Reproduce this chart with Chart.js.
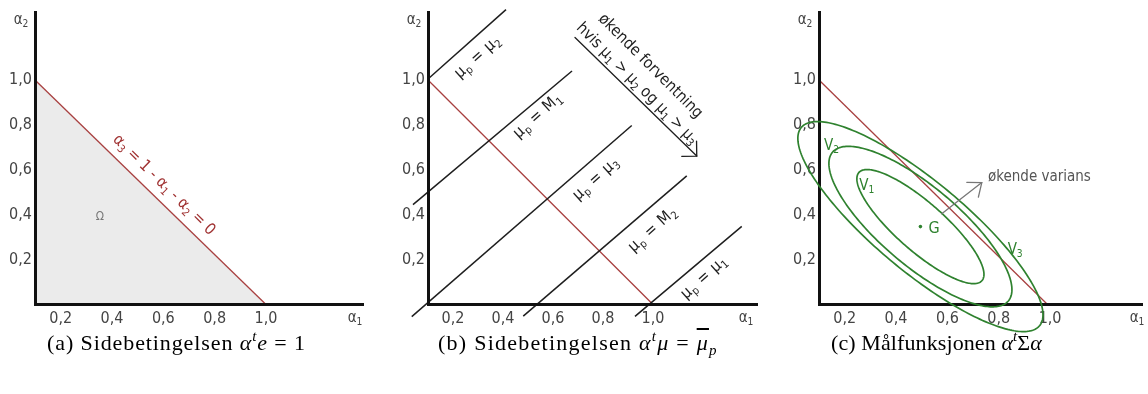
<!DOCTYPE html>
<html><head><meta charset="utf-8">
<script src="https://cdn.jsdelivr.net/npm/chart.js@4.4.0/dist/chart.umd.min.js"></script>
<style>
html,body{margin:0;padding:0;background:#fff;}
#wrap{position:relative;width:1148px;height:394px;overflow:hidden;background:#fff;}
.panel{position:absolute;top:0;height:394px;}
canvas{display:block;}
.cap{position:absolute;top:330px;font-family:'Liberation Serif','DejaVu Serif',serif;font-size:22px;letter-spacing:0.9px;line-height:26px;color:#000;white-space:nowrap;}
.cap i{font-style:italic;}
.cap sup{font-size:15px;vertical-align:9px;line-height:0;}
.cap sub{font-size:15px;vertical-align:-5px;line-height:0;}
.ov{text-decoration:overline;}
</style></head><body>
<div id="wrap">
  <div class="panel" style="left:0;width:383px"><canvas id="ca" width="383" height="394"></canvas></div>
  <div class="panel" style="left:383px;width:387px"><canvas id="cb" width="387" height="394"></canvas></div>
  <div class="panel" style="left:770px;width:378px"><canvas id="cc" width="378" height="394"></canvas></div>
  <div class="cap" style="left:47px">(a) Sidebetingelsen <i>α</i><sup><i>t</i></sup><i>e</i> = 1</div>
  <div class="cap" style="left:438px;letter-spacing:1.25px">(b) Sidebetingelsen <i>α</i><sup><i>t</i></sup><i>μ</i> = <span class="ov"><i>μ</i></span><sub><i>p</i></sub></div>
  <div class="cap" style="left:831px;letter-spacing:0.1px">(c) Målfunksjonen <i>α</i><sup><i>t</i></sup>Σ<i>α</i></div>
</div>
<script>
// ---------- data ----------
const xTickValues = [0.2, 0.4, 0.6, 0.8, 1.0];
const xTickLabels = ['0,2', '0,4', '0,6', '0,8', '1,0'];
const yTickValues = [0.2, 0.4, 0.6, 0.8, 1.0];
const yTickLabels = ['0,2', '0,4', '0,6', '0,8', '1,0'];

// (a) constraint alpha1 + alpha2 = 1 as drawn
const constraintAX = [0.1, 1.0];
const constraintAY = [1.0, 0.0];

// (b) iso-return lines
const isoNames  = ['μp = μ2', 'μp = M1', 'μp = μ3', 'μp = M2', 'μp = μ1'];
const isoStartX = [0.100, 0.040, 0.035, 0.481, 0.928];
const isoStartY = [1.004, 0.445, -0.054, -0.052, -0.053];
const isoEndX   = [0.412, 0.676, 0.915, 1.135, 1.355];
const isoEndY   = [1.313, 1.040, 0.797, 0.573, 0.348];
const constraintBX = [0.1, 1.0];
const constraintBY = [1.0, 0.0];

// (c) iso-variance ellipses around G
const constraintCX = [0.1, 0.99];
const constraintCY = [1.0, 0.0];
const minVarX = [0.495];
const minVarY = [0.347];
const levelNames     = ['V1', 'V2', 'V3'];
const levelSemiMajor = [0.340, 0.477, 0.641];
const levelSemiMinor = [0.101, 0.165, 0.189];
const levelAngleDeg  = [-45.9, -45.1, -44.3];

// ---------- styles ----------
const CANVAS_H = 394;
const AXIS_Y = 304.5;
const TOP_Y = 10;
const FONT = "'DejaVu Sans Condensed', 'DejaVu Sans', sans-serif";
const RED = '#a84040';
const GREEN = '#2f822f';
const INK = '#1e1e1e';
const TICKC = '#444';

function pts(xs, ys) { return xs.map((x, i) => ({x: x, y: ys[i]})); }

function makeScales(xMax, leftW) {
  return {
    x: {
      type: 'linear', min: 0.1, max: xMax,
      grid: {display: false, drawTicks: false},
      border: {display: true, color: '#111', width: 3, z: 1},
      afterBuildTicks: s => { s.ticks = xTickValues.map(v => ({value: v})); },
      afterFit: s => { s.height = CANVAS_H - AXIS_Y; },
      ticks: {autoSkip: false, maxRotation: 0, minRotation: 0, padding: 5, color: TICKC,
        font: {family: FONT, size: 16}, callback: (v, i) => xTickLabels[i]}
    },
    y: {
      type: 'linear', min: 0, max: 1.3,
      grid: {display: false, drawTicks: false},
      border: {display: true, color: '#111', width: 3, z: 1},
      afterBuildTicks: s => { s.ticks = yTickValues.map(v => ({value: v})); },
      afterFit: s => { s.width = leftW; },
      ticks: {autoSkip: false, padding: 3, color: TICKC,
        font: {family: FONT, size: 16}, callback: (v, i) => yTickLabels[i]}
    }
  };
}

// rich text: parts = [[text, 'n'|'sub']]
function drawRich(ctx, parts, px, py, angleDeg, size, color, align, spacing) {
  ctx.save();
  ctx.translate(px, py);
  ctx.rotate(angleDeg * Math.PI / 180);
  ctx.fillStyle = color;
  ctx.textBaseline = 'alphabetic';
  if (spacing) ctx.letterSpacing = spacing + 'px';
  const subSize = size * 0.68;
  const widths = parts.map(([t, k]) => { ctx.font = (k === 'n' ? size : subSize) + 'px ' + FONT; return ctx.measureText(t).width; });
  const total = widths.reduce((a, b) => a + b, 0);
  let x = align === 'left' ? 0 : -total / 2;
  const base = size * 0.36;
  parts.forEach(([t, k], i) => {
    ctx.font = (k === 'n' ? size : subSize) + 'px ' + FONT;
    ctx.fillText(t, x, base + (k === 'sub' ? size * 0.22 : 0));
    x += widths[i];
  });
  ctx.restore();
}

function subParts(label) {
  const out = [];
  const re = /([μαVM])([a-z0-9])/g;
  let last = 0, m;
  while ((m = re.exec(label)) !== null) {
    if (m.index > last) out.push([label.slice(last, m.index), 'n']);
    out.push([m[1], 'n']); out.push([m[2], 'sub']);
    last = re.lastIndex;
  }
  if (last < label.length) out.push([label.slice(last), 'n']);
  return out;
}

function arrow(ctx, x1, y1, x2, y2, len, halfAng, color, w) {
  ctx.save();
  ctx.strokeStyle = color; ctx.lineWidth = w; ctx.lineCap = 'round';
  ctx.beginPath(); ctx.moveTo(x1, y1); ctx.lineTo(x2, y2); ctx.stroke();
  const a = Math.atan2(y1 - y2, x1 - x2);
  ctx.beginPath();
  ctx.moveTo(x2 + len * Math.cos(a + halfAng), y2 + len * Math.sin(a + halfAng));
  ctx.lineTo(x2, y2);
  ctx.lineTo(x2 + len * Math.cos(a - halfAng), y2 + len * Math.sin(a - halfAng));
  ctx.stroke();
  ctx.restore();
}

// annotations (text/positions), per canvas
const EXTRAS = {
  ca: {
    a1dx: -8,
    texts: [
      {parts: subParts('α3 = 1 - α1 - α2 = 0'), x: 0.606, y: 0.537, angle: 44.5, size: 16, color: '#a03232'},
      {parts: [['Ω', 'n']], x: 0.353, y: 0.396, angle: 0, size: 12, color: '#777'}
    ]
  },
  cb: {
    a1dx: -11,
    texts: [
      {parts: subParts(isoNames[0]), x: 0.295, y: 1.108, angle: -42, size: 16, color: INK, sp: 0.6},
      {parts: subParts(isoNames[1]), x: 0.535, y: 0.846, angle: -42, size: 16, color: INK, sp: 0.6},
      {parts: subParts(isoNames[2]), x: 0.768, y: 0.565, angle: -42, size: 16, color: INK, sp: 0.6},
      {parts: subParts(isoNames[3]), x: 0.995, y: 0.339, angle: -42, size: 16, color: INK, sp: 0.6},
      {parts: subParts(isoNames[4]), x: 1.200, y: 0.125, angle: -42, size: 16, color: INK, sp: 0.6},
      {parts: [['økende forventning', 'n']], x: 0.994, y: 1.066, angle: 45, size: 16, color: INK},
      {parts: subParts('hvis μ1 > μ2 og μ1 > μ3'), x: 0.940, y: 0.988, angle: 45, size: 16, color: INK}
    ],
    arrows: [{x1: 0.688, y1: 1.189, x2: 1.175, y2: 0.661, len: 15, half: Math.PI / 4, color: INK, w: 1.3}]
  },
  cc: {
    a1dx: -5,
    ellipses: true,
    texts: [
      {parts: subParts(levelNames[1]), x: 0.149, y: 0.712, angle: 0, size: 15, color: GREEN},
      {parts: subParts(levelNames[0]), x: 0.286, y: 0.536, angle: 0, size: 15, color: GREEN},
      {parts: subParts(levelNames[2]), x: 0.864, y: 0.250, angle: 0, size: 15, color: GREEN},
      {parts: [['G', 'n']], x: 0.548, y: 0.345, angle: 0, size: 16, color: GREEN},
      {parts: [['økende varians', 'n']], x: 0.758, y: 0.573, angle: 0, size: 15, color: '#555', align: 'left'}
    ],
    arrows: [{x1: 0.578, y1: 0.404, x2: 0.734, y2: 0.543, len: 15, half: 0.68, color: '#777', w: 1.3}]
  }
};

const notesPlugin = {
  id: 'notes',
  afterDraw(chart) {
    const ex = EXTRAS[chart.canvas.id];
    const ctx = chart.ctx, xs = chart.scales.x, ys = chart.scales.y, ca = chart.chartArea;
    const X = v => xs.getPixelForValue(v), Y = v => ys.getPixelForValue(v);
    if (ex.ellipses) {
      ctx.save();
      ctx.strokeStyle = GREEN; ctx.lineWidth = 1.7;
      for (let k = 0; k < levelSemiMajor.length; k++) {
        const th = levelAngleDeg[k] * Math.PI / 180, a = levelSemiMajor[k], b = levelSemiMinor[k];
        ctx.beginPath();
        for (let i = 0; i <= 240; i++) {
          const t = i / 240 * 2 * Math.PI;
          const dx = a * Math.cos(t) * Math.cos(th) - b * Math.sin(t) * Math.sin(th);
          const dy = a * Math.cos(t) * Math.sin(th) + b * Math.sin(t) * Math.cos(th);
          const px = X(minVarX[0] + dx), py = Y(minVarY[0] + dy);
          if (i === 0) ctx.moveTo(px, py); else ctx.lineTo(px, py);
        }
        ctx.closePath(); ctx.stroke();
      }
      ctx.restore();
    }
    (ex.arrows || []).forEach(a => arrow(ctx, X(a.x1), Y(a.y1), X(a.x2), Y(a.y2), a.len, a.half, a.color, a.w));
    (ex.texts || []).forEach(t => drawRich(ctx, t.parts, X(t.x), Y(t.y), t.angle, t.size, t.color, t.align, t.sp));
    drawRich(ctx, [['α', 'n'], ['2', 'sub']], ca.left - 14, ca.top + 6, 0, 15, TICKC, 'center');
    drawRich(ctx, [['α', 'n'], ['1', 'sub']], ca.right + ex.a1dx, AXIS_Y + 12, 0, 15, TICKC, 'center');
  }
};

function lineDs(xs, ys, color, extra) {
  return Object.assign({data: pts(xs, ys), showLine: true, borderColor: color, borderWidth: 1.3,
    pointRadius: 0, pointHoverRadius: 0, fill: false, clip: false, tension: 0}, extra || {});
}

function baseOptions(xMax, leftW, rightPad) {
  return {
    responsive: false, animation: false, devicePixelRatio: 1,
    layout: {padding: {top: TOP_Y, left: 0, right: rightPad, bottom: 0}},
    plugins: {legend: {display: false}, tooltip: {enabled: false}, title: {display: false}},
    scales: makeScales(xMax, leftW),
    events: []
  };
}

new Chart(document.getElementById('ca'), {
  type: 'scatter',
  data: {datasets: [lineDs(constraintAX, constraintAY, RED, {fill: 'origin', backgroundColor: '#ebebeb'})]},
  options: baseOptions(1.378, 35, 20),
  plugins: [notesPlugin]
});

const isoSets = isoNames.map((n, i) => lineDs([isoStartX[i], isoEndX[i]], [isoStartY[i], isoEndY[i]], INK, {label: n, borderWidth: 1.5}));
new Chart(document.getElementById('cb'), {
  type: 'scatter',
  data: {datasets: isoSets.concat([lineDs(constraintBX, constraintBY, RED)])},
  options: baseOptions(1.416, 45, 13),
  plugins: [notesPlugin]
});

new Chart(document.getElementById('cc'), {
  type: 'scatter',
  data: {datasets: [
    lineDs(constraintCX, constraintCY, RED),
    {data: pts(minVarX, minVarY), pointRadius: 1.8, backgroundColor: GREEN, borderWidth: 0, showLine: false}
  ]},
  options: baseOptions(1.358, 49, 6),
  plugins: [notesPlugin]
});
</script>
</body></html>
